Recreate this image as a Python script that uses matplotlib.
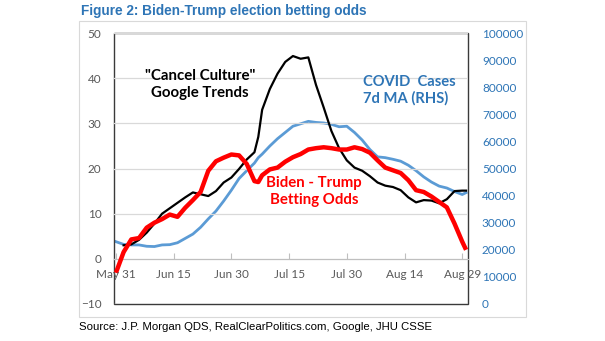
import numpy as np
import matplotlib
matplotlib.use("Agg")
import matplotlib.pyplot as plt
from matplotlib.patches import Rectangle
from matplotlib import font_manager as fm

# ---- data ----
start_date = "2020-05-31"
day_offsets = [0, 2, 4, 6, 8, 10, 12, 14, 16, 18, 20, 22, 24, 26, 28, 30, 32, 34, 36, 37,
               38, 40, 42, 44, 46, 48, 50, 52, 54, 56, 58, 60, 62, 64, 66, 68, 70, 72, 74,
               76, 78, 80, 82, 84, 86, 88, 90, 91]
betting_odds = [-3.1, 1.5, 4.3, 4.6, 6.9, 8.0, 8.8, 9.8, 9.3, 11.3, 13.0, 14.8, 19.5, 21.6,
                22.4, 23.1, 22.9, 21.0, 17.2, 17.0, 18.5, 19.8, 20.2, 21.5, 22.5, 23.2, 24.2,
                24.5, 24.7, 24.5, 24.2, 24.2, 24.7, 24.3, 23.5, 21.8, 20.2, 19.6, 19.0, 17.4,
                15.2, 14.8, 13.8, 12.6, 11.4, 7.8, 3.8, 2.0]
google_trends = [np.nan, 3.0, 3.2, 4.2, 5.8, 7.8, 10.0, 11.2, 12.4, 13.6, 14.7, 14.3, 13.9,
                 15.0, 16.9, 18.0, 19.9, 22.0, 23.6, 27.0, 33.0, 37.6, 41.0, 43.6, 44.9, 44.3,
                 44.6, 38.5, 33.5, 28.3, 24.5, 21.8, 20.2, 19.5, 18.3, 16.9, 16.2, 15.9, 15.2,
                 13.6, 12.5, 13.0, 12.9, 12.3, 13.2, 15.0, 15.1, 15.1]
covid_cases = [23000, 22000, 21800, 21800, 21300, 21200, 21800, 21900, 22600, 24200, 25800,
               28300, 31400, 34300, 38000, 42000, 46300, 49200, 52000, 54000, 55300, 58300,
               61000, 63300, 65600, 66500, 67400, 67000, 66800, 66300, 65400, 65600, 63300,
               60500, 57000, 54300, 54000, 53400, 52700, 51200, 49200, 46900, 45000, 43500,
               42800, 41500, 40400, 41100]
tick_offsets = [0, 15, 30, 45, 60, 75, 90]
tick_labels = ["May 31", "Jun 15", "Jun 30", "Jul 15", "Jul 30", "Aug 14", "Aug 29"]
left_ticks = [-10, 0, 10, 20, 30, 40, 50]
right_ticks = list(range(0, 100001, 10000))

dates = np.datetime64(start_date) + np.array(day_offsets).astype("timedelta64[D]")
tick_dates = np.datetime64(start_date) + np.array(tick_offsets).astype("timedelta64[D]")

# ---- fonts ----
avail = {f.name for f in fm.fontManager.ttflist}
narrow = "Liberation Sans Narrow" if "Liberation Sans Narrow" in avail else "Liberation Sans"
title_size = 11 if narrow == "Liberation Sans Narrow" else 9.8
body = "Lato" if "Lato" in avail else "DejaVu Sans"
plt.rcParams["font.family"] = [body, "DejaVu Sans"]

W, H = 605, 341
fig = plt.figure(figsize=(W / 100, H / 100), dpi=100)

L, R, T, B = 114, 468, 33, 304
ax = fig.add_axes([L / W, 1 - B / H, (R - L) / W, (B - T) / H])
ax2 = ax.twinx()

ax.set_zorder(ax2.get_zorder() + 1)
ax.patch.set_visible(False)

blue = "#5B9BD5"
ax2.plot(dates, covid_cases, color=blue, lw=2.0, solid_joinstyle="round")
ax.plot(dates, google_trends, color="black", lw=1.6, solid_joinstyle="round")
ax.plot(dates, betting_odds, color="#FF0000", lw=3.2, solid_joinstyle="round", solid_capstyle="butt")

x0 = np.datetime64(start_date) - np.timedelta64(12, "h")
x1 = np.datetime64(start_date) + np.timedelta64(91, "D") + np.timedelta64(12, "h")
ax.set_xlim(x0, x1)
ax.set_ylim(-10, 50)
ax2.set_ylim(0, 100000)

ax.set_yticks(left_ticks)
for v in left_ticks:
    ax.axhline(v, color="#D9D9D9", lw=0.9, zorder=1)
ax.set_axisbelow(False)
ax.tick_params(axis="y", length=0, pad=9, labelsize=8.5, labelcolor="#595959")
ax2.set_yticks(right_ticks)
ax2.tick_params(axis="y", length=0, pad=10, labelsize=8.5, labelcolor="#2E75B6")

ax.set_xticks(tick_dates)
ax.set_xticklabels(tick_labels)
ax.spines["bottom"].set_position(("data", 0))
ax.spines["bottom"].set_color("#BFBFBF")
ax.spines["bottom"].set_zorder(1)
ax.tick_params(axis="x", direction="in", length=4, color="#BFBFBF", pad=7,
               labelsize=8.5, labelcolor="#595959")

for a in (ax, ax2):
    for s in ("top", "left", "right"):
        a.spines[s].set_visible(False)
ax2.spines["bottom"].set_visible(False)
ax.add_patch(Rectangle((0, 0), 1, 1, transform=ax.transAxes, fill=False,
                       ec="#3A3A3A", lw=1.0, zorder=0.5, clip_on=False))

# outer frame
fig.add_artist(Rectangle((79 / W, 1 - 317 / H), (526 - 79) / W, (317 - 21) / H,
                         transform=fig.transFigure, fill=False, ec="#D9D9D9", lw=0.8))

# annotations
ax.text(0.243, 0.81, '"Cancel Culture"\nGoogle Trends', transform=ax.transAxes,
        ha="center", va="center", fontsize=10.8, fontweight="bold", color="black",
        linespacing=1.2)
ax.text(0.703, 0.79, "COVID  Cases\n7d MA (RHS)", transform=ax.transAxes,
        ha="left", va="center", fontsize=10.6, fontweight="bold", color="#2E75B6",
        linespacing=1.2)
ax.text(0.565, 0.415, "Biden - Trump\nBetting Odds", transform=ax.transAxes,
        ha="center", va="center", fontsize=10.8, fontweight="bold", color="#FF0000",
        linespacing=1.2)

fig.text(81 / W, 1 - 11 / H, "Figure 2: Biden-Trump election betting odds",
         fontsize=title_size, fontweight="bold", color="#2E75B6", family=narrow,
         ha="left", va="center")
fig.text(79 / W, 1 - 327 / H, "Source: J.P. Morgan QDS, RealClearPolitics.com, Google, JHU CSSE",
         fontsize=8.2, color="black", family=narrow, ha="left", va="center")

fig.savefig("out.png", dpi=100)
